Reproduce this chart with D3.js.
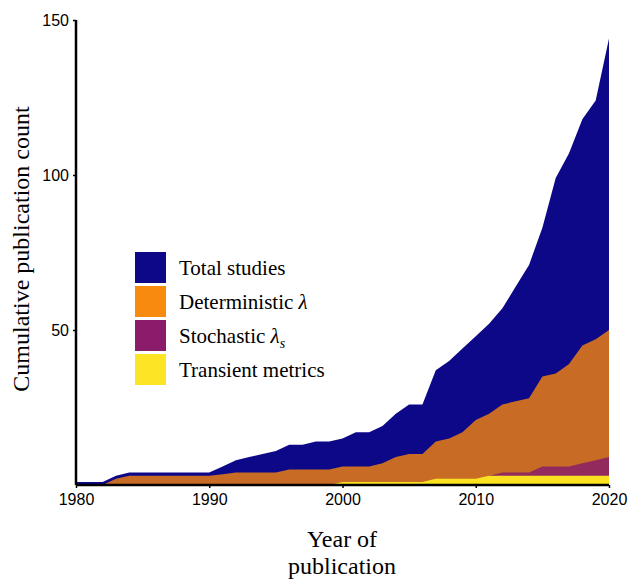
<!DOCTYPE html>
<html>
<head>
<meta charset="utf-8">
<script src="https://cdn.jsdelivr.net/npm/d3@7"></script>
<style>
html,body{margin:0;padding:0;background:#fff;}
svg{display:block;}
</style>
</head>
<body>
<svg id="chart" width="629" height="580"></svg>
<script>
const years = d3.range(1980, 2021);
const totalStudies = [1,1,1,3,4,4,4,4,4,4,4,6,8,9,10,11,13,13,14,14,15,17,17,19,23,26,26,37,40,44,48,52,57,64,71,83,99,107,118,124,144];
const deterministic = [0,0,0,2,3,3,3,3,3,3,3,3.5,4,4,4,4,5,5,5,5,6,6,6,7,9,10,10,14,15,17,21,23,26,27,28,35,36,39,45,47,50];
const stochastic = [0,0,0,0,0,0,0,0,0,0,0,0,0,0,0,0,0,0,0,0,0,0,0,0,0,0,0,0,0,0,1,3,4,4,4,6,6,6,7,8,9];
const transient = [0,0,0,0,0,0,0,0,0,0,0,0,0,0,0,0,0,0,0,0,1,1,1,1,1,1,1,2,2,2,2,3,3,3,3,3,3,3,3,3,3];
const xTicks = [1980,1990,2000,2010,2020];
const yTicks = [50,100,150];
const seriesNames = ["Total studies","Deterministic","Stochastic","Transient metrics"];

const svg = d3.select("#chart");
const x = d3.scaleLinear().domain([1980,2020]).range([76,609]);
const y = d3.scaleLinear().domain([0,150]).range([485,20]);

const series = [
  {name:seriesNames[0], vals:totalStudies, fill:"#0d0887", legend:"#0d0887"},
  {name:seriesNames[1], vals:deterministic, fill:"#c86c25", legend:"#f98a10"},
  {name:seriesNames[2], vals:stochastic, fill:"#932a5e", legend:"#8b1c6b"},
  {name:seriesNames[3], vals:transient, fill:"#fbe221", legend:"#fde424"}
];

const area = d3.area()
  .x(d=>x(d[0]))
  .y0(y(0))
  .y1(d=>y(d[1]));

series.forEach(s=>{
  svg.append("path")
    .datum(years.map((yr,i)=>[yr,s.vals[i]]))
    .attr("d", area)
    .attr("fill", s.fill);
});

// axes
const xAxis = d3.axisBottom(x).tickValues(xTicks).tickFormat(d3.format("d")).tickSize(3).tickPadding(6);
const yAxis = d3.axisLeft(y).tickValues(yTicks).tickSize(3).tickPadding(4);

const gx = svg.append("g").attr("transform","translate(0,485)").call(xAxis);
const gy = svg.append("g").attr("transform","translate(76,0)").call(yAxis);
[gx,gy].forEach(g=>{
  g.select(".domain").attr("stroke","#000").attr("stroke-width",2.5);
  g.selectAll(".tick line").attr("stroke","#000").attr("stroke-width",1.5);
  g.selectAll(".tick text").attr("fill","#000")
    .style("font-family","'Liberation Sans', Arial, sans-serif").style("font-size","16px");
});
gx.select(".domain").attr("d","M76,0H609");
gy.select(".domain").attr("d","M0,485V20");

// axis titles
svg.append("text")
  .attr("transform","translate(29,249) rotate(-90)")
  .attr("text-anchor","middle")
  .style("font-family","'Liberation Serif','Times New Roman',serif")
  .style("font-size","24px")
  .attr("fill","#000")
  .text("Cumulative publication count");

const xt = svg.append("text")
  .attr("text-anchor","middle")
  .style("font-family","'Liberation Serif','Times New Roman',serif")
  .style("font-size","24px")
  .attr("fill","#000");
xt.append("tspan").attr("x",342).attr("y",547).text("Year of");
xt.append("tspan").attr("x",342).attr("y",574).text("publication");

// legend
const lg = svg.append("g");
series.forEach((s,i)=>{
  const top = 252 + i*34;
  lg.append("rect").attr("x",135).attr("y",top).attr("width",31).attr("height",31).attr("fill",s.legend);
  const t = lg.append("text").attr("x",179).attr("y",top+22.5)
    .style("font-family","'Liberation Serif','Times New Roman',serif")
    .style("font-size","21px").attr("fill","#000");
  if(i===1){
    t.append("tspan").text("Deterministic ");
    t.append("tspan").style("font-style","italic").text("λ");
  } else if(i===2){
    t.append("tspan").text("Stochastic ");
    t.append("tspan").style("font-style","italic").text("λ");
    t.append("tspan").style("font-style","italic").style("font-size","14px").attr("dy",5).text("s");
  } else {
    t.text(s.name);
  }
});
</script>
</body>
</html>
